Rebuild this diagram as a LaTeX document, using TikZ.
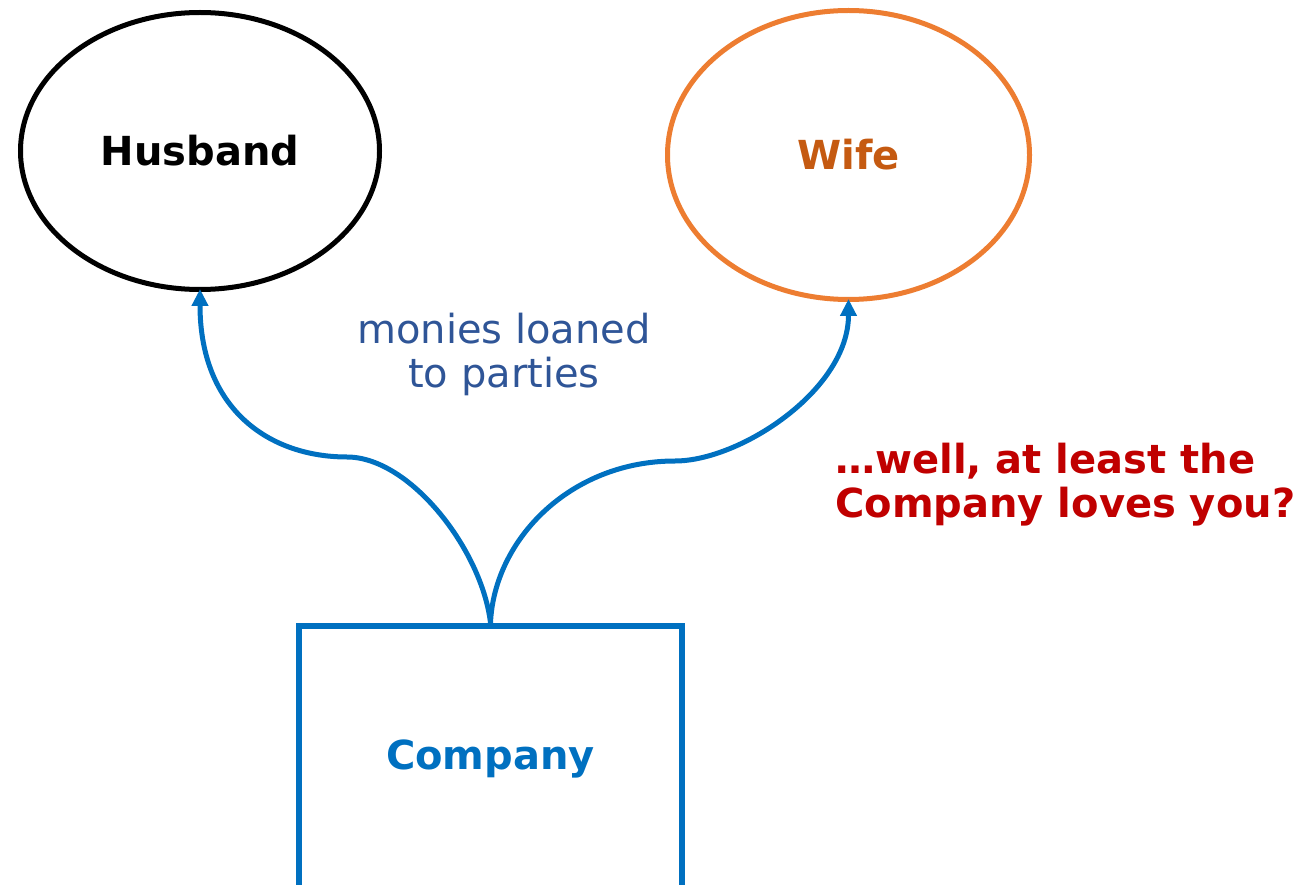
\documentclass[tikz,border=0pt]{standalone}
\usepackage{fontspec}
\setmainfont{DejaVu Sans}
\usetikzlibrary{shapes.geometric,arrows.meta}
\definecolor{wifeline}{HTML}{ED7D31}
\definecolor{wifetext}{HTML}{C55A11}
\definecolor{firmblue}{HTML}{0070C0}
\definecolor{labelblue}{HTML}{2F5597}
\definecolor{remarkred}{HTML}{C00000}
\begin{document}
\begin{tikzpicture}[x=1pt,y=-1pt,
  bigtext/.style={font=\fontsize{40}{44}\selectfont},
  boldtext/.style={font=\fontsize{40}{44}\selectfont\bfseries},
  party/.style={ellipse,draw,line width=5pt,inner sep=0pt,boldtext},
  firm/.style={rectangle,draw=firmblue,line width=6pt,inner sep=0pt,text=firmblue,boldtext},
  loan/.style={draw=firmblue,line width=5pt,shorten >=-3pt,-{Triangle[length=17pt,width=16pt]}},
]
\useasboundingbox (0,0) rectangle (1301,885);
\clip (0,0) rectangle (1301,885);

% the two parties
\node[party,minimum width=359pt,minimum height=277pt] (husband) at (200,151) {Husband};
\node[party,draw=wifeline,text=wifetext,minimum width=362pt,minimum height=289pt] (wife) at (848.5,155) {Wife};

% the company, running off the bottom edge
\node[firm,minimum width=383pt,minimum height=266pt] (company) at (490.5,759) {Company};

% where each loan curve turns
\coordinate (lbend) at (347,457);
\coordinate (rbend) at (675,461);

\draw[loan] (company.north) .. controls (482,550) and (410,457) .. (lbend)
  .. controls (270,457) and (200,410) .. (husband.south);
\draw[loan] (company.north) .. controls (494,540) and (570,461) .. (rbend)
  .. controls (740,461) and (848.5,390) .. (wife.south);

% captions
\node[bigtext,text=labelblue,align=center,anchor=base,inner sep=0pt] (loanlabel) at (504,387)
  {monies loaned\\to parties};
\node[boldtext,text=remarkred,align=left,anchor=base west,inner sep=0pt] (remark) at (835,517)
  {…well, at least the\\Company loves you?};
\end{tikzpicture}
\end{document}
